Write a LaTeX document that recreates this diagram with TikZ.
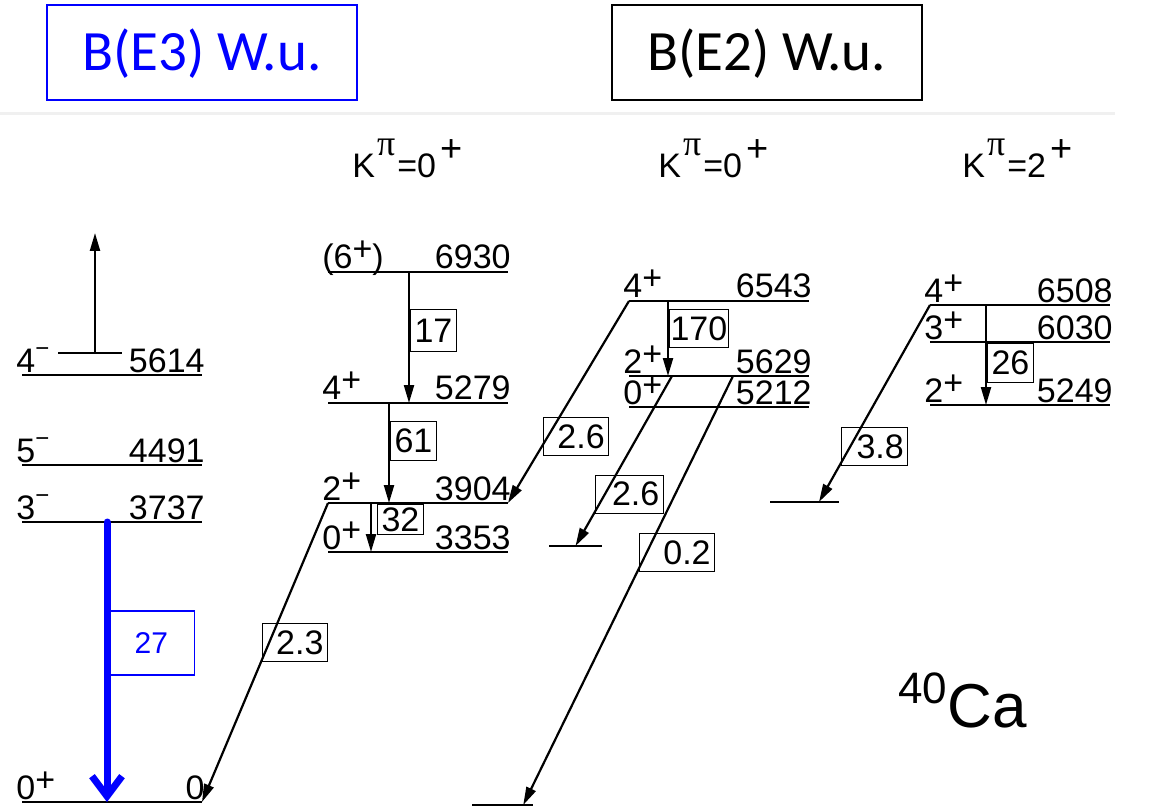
\documentclass[tikz,border=0pt]{standalone}
\usepackage{fontspec}
\setmainfont{Liberation Sans}
\newfontfamily\carlito{Carlito}
\newfontfamily\grk{Liberation Serif}
\usetikzlibrary{arrows.meta,calc}
\definecolor{eblue}{RGB}{0,0,255}
\newcommand\lab{\fontsize{17}{20}\selectfont}
\newcommand\pl{\raisebox{4pt}{+}}
\newcommand\mi{\raisebox{8pt}{\fontsize{12}{12}\selectfont −}}
\newcommand\kpi[1]{K\hspace{1pt}\raisebox{11pt}{\grk\fontsize{18}{18}\selectfont π}\hspace{1pt}=#1\hspace{2pt}\raisebox{8pt}{\fontsize{19}{19}\selectfont +}}
% level: name, x left, x right, y, spin, energy
\newcommand\lvl[6]{%
  \coordinate (#1l) at (#2,#4);
  \coordinate (#1r) at (#3,#4);
  \draw[lvline] (#1l) -- (#1r);
  \node[lvlab, anchor=base west] (#1s) at ([shift={(-6,-3)}]#1l) {#5};
  \node[lvlab, anchor=base east] (#1e) at ([shift={(3,-3)}]#1r) {#6};
}
\tikzset{
  >={Triangle[length=9pt,width=5pt]},
  lvline/.style={draw=black, line width=1.4pt},
  lvlab/.style={font=\lab, inner sep=0pt},
  tr/.style={->, line width=1.1pt},
  lbox/.style={draw, line width=0.5pt, font=\lab, inner xsep=2pt, inner ysep=3.5pt},
  dbox/.style={lbox, text width=#1, align=right},
  head/.style={draw, line width=1pt, minimum width=155pt, minimum height=47.5pt,
    font=\carlito\fontsize{28.5}{30}\selectfont, text height=18.4pt, text depth=0pt},
  e3arr/.style={-{Straight Barb[length=10pt,width=15pt]}, draw=eblue, line width=3.5pt, line cap=round},
}
\begin{document}
\begin{tikzpicture}[x=0.5pt, y=-0.5pt]
  \useasboundingbox (0,0) rectangle (1153,808);
  % ---------------- headers ----------------
  \node[head, draw=eblue, text=eblue] (be3) at (202,52.5) {B(E3) W.u.};
  \node[head] (be2) at (766.5,52.5) {B(E2) W.u.};
  \draw[black!6, line width=1.5pt] (0,114) coordinate (sep0) -- (1115,114) coordinate (sep1);
  \node[font=\lab, anchor=base west, inner sep=0pt] (k1) at (352,177) {\kpi{0}};
  \node[font=\lab, anchor=base west, inner sep=0pt] (k2) at (658,177) {\kpi{0}};
  \node[font=\lab, anchor=base west, inner sep=0pt] (k3) at (962,177) {\kpi{2}};

  % ---------------- levels ----------------
  \lvl{e0}{22}{202}{802}{0\pl}{0}
  \lvl{e3737}{22}{202}{522}{3\mi}{3737}
  \lvl{e4491}{22}{202}{465}{5\mi}{4491}
  \lvl{e5614}{22}{202}{375}{4\mi}{5614}
  \lvl{e3353}{328}{508}{552}{0\pl}{3353}
  \lvl{e3904}{328}{508}{503}{2\pl}{3904}
  \lvl{e5279}{328}{508}{403}{4\pl}{5279}
  \lvl{e6930}{328}{508}{272}{(6\pl)}{6930}
  \lvl{e5212}{629}{809}{407}{0\pl}{5212}
  \lvl{e5629}{629}{809}{376}{2\pl}{5629}
  \lvl{e6543}{629}{809}{301}{4\pl}{6543}
  \lvl{e5249}{930}{1110}{405}{2\pl}{5249}
  \lvl{e6030}{930}{1110}{342}{3\pl}{6030}
  \lvl{e6508}{930}{1110}{305}{4\pl}{6508}
  % short final levels
  \coordinate (s1l) at (549,546); \coordinate (s1r) at (602,546);
  \coordinate (s2l) at (472,805); \coordinate (s2r) at (533,805);
  \coordinate (s3l) at (770,502); \coordinate (s3r) at (839,502);
  \coordinate (s4l) at (58,353);  \coordinate (s4r) at (122,353);
  \foreach \s in {s1,s2,s3,s4}{\draw[lvline] (\s l) -- (\s r);}

  % ---------------- transitions ----------------
  \draw[tr] (95,0 |- s4l) -- (95,233) coordinate (up);
  \draw[e3arr] (107,0 |- e3737l) -- (107,0 |- e0l)
    node[draw=eblue, line width=0.75pt, text=eblue, font=\fontsize{15}{15}\selectfont,
      minimum width=43pt, minimum height=32pt, pos=0.432, anchor=west, xshift=0.3pt] (b27) {27};
  \draw[tr] (409,0 |- e6930l) -- (409,0 |- e5279l)
    node[lbox, minimum height=21pt, pos=0.447, anchor=west, xshift=0.5pt] (b17) {17};
  \draw[tr] (389,0 |- e5279l) -- (389,0 |- e3904l)
    node[lbox, pos=0.38, anchor=west, xshift=0.5pt] (b61) {61};
  \draw[tr] (371,0 |- e3904l) -- (371,0 |- e3353l)
    node[lbox, inner ysep=1.5pt, pos=0.34, anchor=west, xshift=3pt] (b32) {32};
  \draw[tr] (e3904l) -- (e0r)
    node[dbox=28.5pt, pos=0.532, anchor=south west, xshift=0.5pt] (b23) {2.3};
  \draw[tr] (668,0 |- e6543l) -- (668,0 |- e5629l)
    node[lbox, inner xsep=0.5pt, pos=0.37, anchor=west, xshift=0.5pt] (b170) {170};
  \draw[tr] (e6543l) -- (e3904r)
    node[dbox=28.5pt, pos=0.767, anchor=south west, xshift=3.5pt] (b26a) {2.6};
  \draw[tr] (672,0 |- e5629l) -- ($(s1l)!0.5!(s1r)$)
    node[dbox=30pt, pos=0.81, anchor=south west, xshift=0.5pt] (b26b) {2.6};
  \draw[tr] (733,0 |- e5629l) -- ($(s2l)!0.84!(s2r)$)
    node[dbox=33.5pt, pos=0.457, anchor=south west, xshift=1pt] (b02) {0.2};
  \draw[tr] (986,0 |- e6508l) -- (986,0 |- e5249l)
    node[lbox, pos=0.58, anchor=west, xshift=0.5pt] (b26) {26};
  \draw[tr] (e6508l) -- ($(s3l)!0.71!(s3r)$)
    node[dbox=29pt, pos=0.817, anchor=south west, xshift=1pt] (b38) {3.8};

  % ---------------- nucleus ----------------
  \node[anchor=base west, inner sep=0pt, font=\fontsize{31}{34}\selectfont] (ca) at (898,727)
    {\raisebox{12pt}{\fontsize{22}{22}\selectfont 40}Ca};
\end{tikzpicture}
\end{document}
